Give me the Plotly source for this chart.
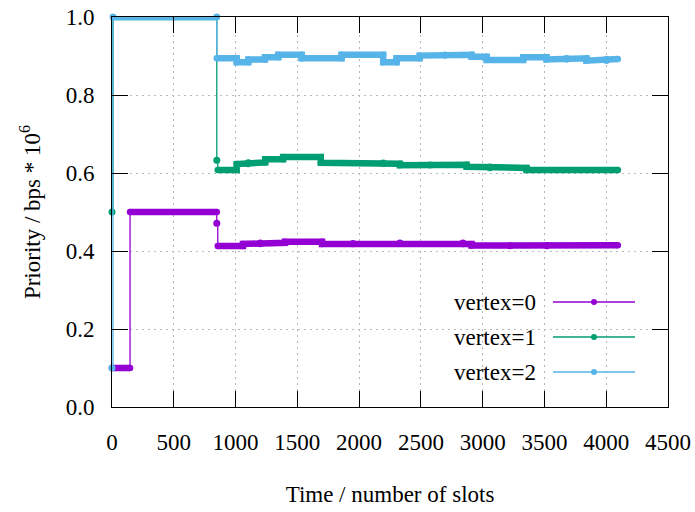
import plotly.graph_objects as go

# ---- data (step breakpoints: value holds from time[i] until time[i+1]) ----
names = ["vertex=0", "vertex=1", "vertex=2"]
colors = ["#9400D3", "#009E73", "#56B4E9"]

t0 = [0, 146, 848, 856, 1060, 1200, 1400, 1700, 1950, 2330, 2840, 2910, 3220, 3520, 4094]
v0 = [0.100, 0.500, 0.471, 0.413, 0.418, 0.421, 0.424, 0.418, 0.420, 0.421, 0.418, 0.414, 0.413, 0.415, 0.415]

t1 = [0, 8, 848, 856, 1009, 1103, 1240, 1385, 1690, 2195, 2330, 2573, 2870, 3058, 3355, 4094]
v1 = [0.500, 1.000, 0.633, 0.608, 0.623, 0.627, 0.635, 0.641, 0.626, 0.624, 0.620, 0.621, 0.616, 0.613, 0.608, 0.608]

t2 = [0, 8, 848, 1009, 1103, 1238, 1346, 1535, 1858, 2195, 2303, 2490, 2694, 2910, 3032, 3328, 3517, 3679, 3840, 4002, 4094]
v2 = [0.100, 1.000, 0.894, 0.884, 0.891, 0.897, 0.903, 0.894, 0.903, 0.884, 0.894, 0.901, 0.903, 0.898, 0.890, 0.897, 0.891, 0.894, 0.888, 0.892, 0.892]

series = [(t0, v0), (t1, v1), (t2, v2)]

x_ticks = [0, 500, 1000, 1500, 2000, 2500, 3000, 3500, 4000, 4500]
y_ticks = [0.0, 0.2, 0.4, 0.6, 0.8, 1.0]

FONT = "Liberation Serif, Times New Roman, Times, serif"
FS = 23

fig = go.Figure()

for (t, v), c, n in zip(series, colors, names):
    # thin connecting step line
    fig.add_trace(go.Scatter(x=t, y=v, mode="lines", line=dict(color=c, width=1.3, shape="hv"),
                             showlegend=False, hoverinfo="skip", cliponaxis=False))
    # thick dense sample segments, isolated single samples as markers
    tx, ty, ix, iy = [], [], [], []
    prev_v = None
    for i in range(len(t) - 1):
        dur = t[i + 1] - t[i]
        if dur < 12:
            ix.append(t[i]); iy.append(v[i])
            if tx and tx[-1] is not None:
                tx.append(None); ty.append(None)
            prev_v = None
            continue
        if prev_v is not None and abs(v[i] - prev_v) > 0.03:
            tx.append(None); ty.append(None)
        tx += [t[i], t[i + 1]]
        ty += [v[i], v[i]]
        prev_v = v[i]
    fig.add_trace(go.Scatter(x=tx, y=ty, mode="lines+markers", line=dict(color=c, width=6.5),
                             marker=dict(color=c, size=6.5), showlegend=False, cliponaxis=False,
                             hoverinfo="skip"))
    fig.add_trace(go.Scatter(x=ix, y=iy, mode="markers", marker=dict(color=c, size=7),
                             showlegend=False, cliponaxis=False, hoverinfo="skip"))

L, R, T, B = 112, 668, 17, 407
W, H = 695, 512

def px_x(p):
    return (p - L) / (R - L)

def px_y(p):
    return (B - p) / (B - T)

shapes = [dict(type="rect", xref="paper", yref="paper", x0=px_x(408), x1=px_x(651),
               y0=px_y(389), y1=px_y(285), fillcolor="white", line=dict(width=0), layer="between")]
annotations = []
leg_y = [302, 337, 372]
for n, c, yy in zip(names, colors, leg_y):
    shapes.append(dict(type="line", xref="paper", yref="paper", x0=px_x(553), x1=px_x(635),
                       y0=px_y(yy), y1=px_y(yy), line=dict(color=c, width=1.3), layer="above"))
    shapes.append(dict(type="circle", xref="paper", yref="paper", x0=px_x(591), x1=px_x(597),
                       y0=px_y(yy + 3), y1=px_y(yy - 3), fillcolor=c, line=dict(width=0), layer="above"))
    annotations.append(dict(text=n, xref="paper", yref="paper", x=px_x(538), y=px_y(yy),
                            xanchor="right", yanchor="middle", showarrow=False,
                            font=dict(family=FONT, size=FS, color="black")))

axis_common = dict(showline=True, linecolor="black", linewidth=1, mirror="allticks",
                   ticks="inside", ticklen=16, tickwidth=1, tickcolor="black",
                   showgrid=True, gridcolor="#b8b8b8", griddash="2px,4px", gridwidth=1,
                   zeroline=False, automargin=False,
                   tickfont=dict(family=FONT, size=FS, color="black"))

fig.update_layout(
    width=W, height=H,
    margin=dict(l=L, r=W - R, t=T, b=H - B, autoexpand=False),
    paper_bgcolor="white", plot_bgcolor="white",
    font=dict(family=FONT, size=FS, color="black"),
    showlegend=False,
    shapes=shapes, annotations=annotations,
    xaxis=dict(range=[0, 4500], tickvals=x_ticks, ticktext=[str(x) for x in x_ticks],
               ticklabelstandoff=14,
               title=dict(text="Time / number of slots", font=dict(family=FONT, size=FS), standoff=32),
               **axis_common),
    yaxis=dict(range=[0, 1], tickvals=y_ticks, ticktext=[f"{y:.1f}" for y in y_ticks],
               ticklabelstandoff=12,
               title=dict(text="Priority / bps * 10<sup>6</sup>", font=dict(family=FONT, size=FS), standoff=18),
               **axis_common),
)

fig.write_html("out.html", config={"displayModeBar": False},
               post_script="document.body.style.margin='0';document.body.style.overflow='hidden';")
